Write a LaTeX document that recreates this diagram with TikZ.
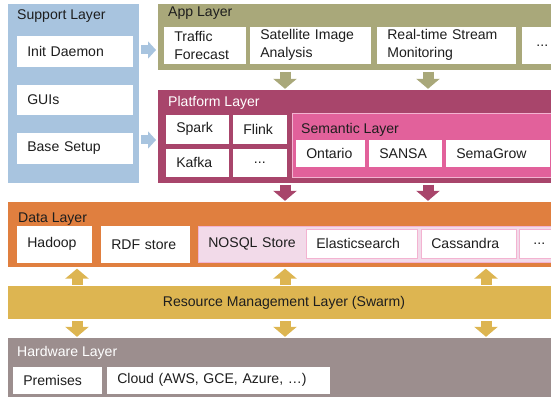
\documentclass[tikz,border=0pt]{standalone}
\usepackage{fontspec}
\setmainfont{Liberation Sans}
\usepackage{xcolor}
\usepackage{tikz}
\usetikzlibrary{arrows.meta}
\definecolor{ink}{HTML}{1E1E1E}
\definecolor{supblue}{HTML}{A8C4DF}
\definecolor{appolive}{HTML}{A9A87A}
\definecolor{platred}{HTML}{A8456B}
\definecolor{sempink}{HTML}{E2619B}
\definecolor{semline}{HTML}{F3B3D1}
\definecolor{dataorange}{HTML}{E07F3F}
\definecolor{nosqlpink}{HTML}{F2DAE9}
\definecolor{resyellow}{HTML}{DDB551}
\definecolor{hwgray}{HTML}{9C8E8E}
\def\pxu{0.03cm}
\newcommand\labfont{\fontsize{12}{15.3}\selectfont}
\tikzset{
  layer/.style 2 args={anchor=north west, inner sep=0pt, minimum width=#1*\pxu, minimum height=#2*\pxu},
  cell/.style 2 args={fill=white, draw=white, line width=0.5pt, anchor=north west, font=\labfont, text=ink,
    minimum width=#1*\pxu, minimum height=#2*\pxu, text width=#1*\pxu-0.6cm,
    inner xsep=0.3cm, inner ysep=0pt, align=left},
  more/.style={align=center},
  ttl/.style={anchor=west, inner sep=0pt, font=\labfont, text=ink},
  ttlw/.style={ttl, text=white},
  blk/.style={line width=11*\pxu, -{Triangle[width=23*\pxu, length=10*\pxu]}, shorten >=1pt, shorten <=1pt},
  blks/.style={line width=9*\pxu, -{Triangle[width=17*\pxu, length=8*\pxu]}, shorten >=1.7pt, shorten <=1.7pt}
}

\begin{document}
\begin{tikzpicture}[x=0.03cm, y=-0.03cm]
  \useasboundingbox (0,0) rectangle (551,397);
  \clip (0,0) rectangle (551,397);
  \coordinate (ya) at (0,50);
  \coordinate (yb) at (0,140);
  \coordinate (xa) at (77,0);
  \coordinate (xb) at (285,0);
  \coordinate (xc) at (428,0);
  \coordinate (xd) at (486,0);

  % support layer
  \node[layer={131}{179}, fill=supblue] (support) at (8,4) {};
  \node[ttl] (suptitle) at (17,16.5) {Support Layer};
  \node[cell={115}{30}] (initd) at (17,36) {Init Daemon};
  \node[cell={115}{29}] (guis) at (17,85) {GUIs};
  \node[cell={115}{30}] (basesetup) at (17,133) {Base Setup};

  % app layer
  \node[layer={400}{66}, fill=appolive] (app) at (158,4) {};
  \node[ttl] (apptitle) at (168,13) {App Layer};
  \node[cell={81}{36}] (traffic) at (164,27) {Traffic\\Forecast};
  \node[cell={120}{36}] (satellite) at (250,27) {Satellite Image\\Analysis};
  \node[cell={138}{36}] (stream) at (377,27) {Real-time Stream\\Monitoring};
  \node[cell={40}{36}, more] (appmore) at (522,27) {...};

  % platform layer
  \node[layer={400}{93}, fill=platred] (platform) at (158,90) {};
  \node[ttlw] (plattitle) at (168,103) {Platform Layer};
  \node[cell={62}{28}] (spark) at (166,115) {Spark};
  \node[cell={53}{28}] (flink) at (233,115) {Flink};
  \node[cell={62}{27}] (kafka) at (166,149) {Kafka};
  \node[cell={53}{27}, more] (platmore) at (233,149) {...};
  \node[layer={270}{64}, fill=sempink, draw=semline, line width=0.8pt] (semantic) at (292,113) {};
  \node[ttl] (semtitle) at (301,130) {Semantic Layer};
  \node[cell={68}{26}] (ontario) at (296,140) {Ontario};
  \node[cell={72}{26}] (sansa) at (369,140) {SANSA};
  \node[cell={103}{26}] (semagrow) at (446,140) {SemaGrow};

  % data layer
  \node[layer={550}{65}, fill=dataorange] (data) at (8,202) {};
  \node[ttl] (datatitle) at (18,219) {Data Layer};
  \node[cell={74}{36}] (hadoop) at (17,226) {Hadoop};
  \node[cell={88}{36}] (rdf) at (101,226) {RDF store};
  \node[cell={360}{36}, fill=nosqlpink, draw=semline] (nosql) at (198,226) {NOSQL Store};
  \node[cell={111}{29}, draw=semline] (elastic) at (306,229) {Elasticsearch};
  \node[cell={95}{29}, draw=semline] (cassandra) at (421,229) {Cassandra};
  \node[cell={40}{29}, draw=semline, more] (datamore) at (519,229) {...};

  % resource management layer
  \node[layer={550}{33}, fill=resyellow] (resource) at (8,286) {};
  \node[font=\labfont, text=ink, inner sep=0pt] (restitle) at (284,303) {Resource Management Layer (Swarm)};

  % hardware layer
  \node[layer={550}{60}, fill=hwgray] (hardware) at (8,338) {};
  \node[ttlw] (hwtitle) at (17,353) {Hardware Layer};
  \node[cell={88}{26}] (premises) at (13,367) {Premises};
  \node[cell={222}{26}] (cloud) at (107,367) {Cloud (AWS, GCE, Azure, \dots)};

  % arrows between layers
  \draw[blks, draw=supblue] (support.east |- ya) -- (app.west |- ya);
  \draw[blks, draw=supblue] (support.east |- yb) -- (platform.west |- yb);
  \foreach \c in {xb,xc} {
    \draw[blk, draw=appolive] (app.south -| \c) -- (platform.north -| \c);
    \draw[blk, draw=platred] (platform.south -| \c) -- (data.north -| \c);
  }
  \foreach \c in {xa,xb,xd} {
    \draw[blk, draw=resyellow] (resource.north -| \c) -- (data.south -| \c);
    \draw[blk, draw=resyellow] (resource.south -| \c) -- (hardware.north -| \c);
  }
\end{tikzpicture}
\end{document}
